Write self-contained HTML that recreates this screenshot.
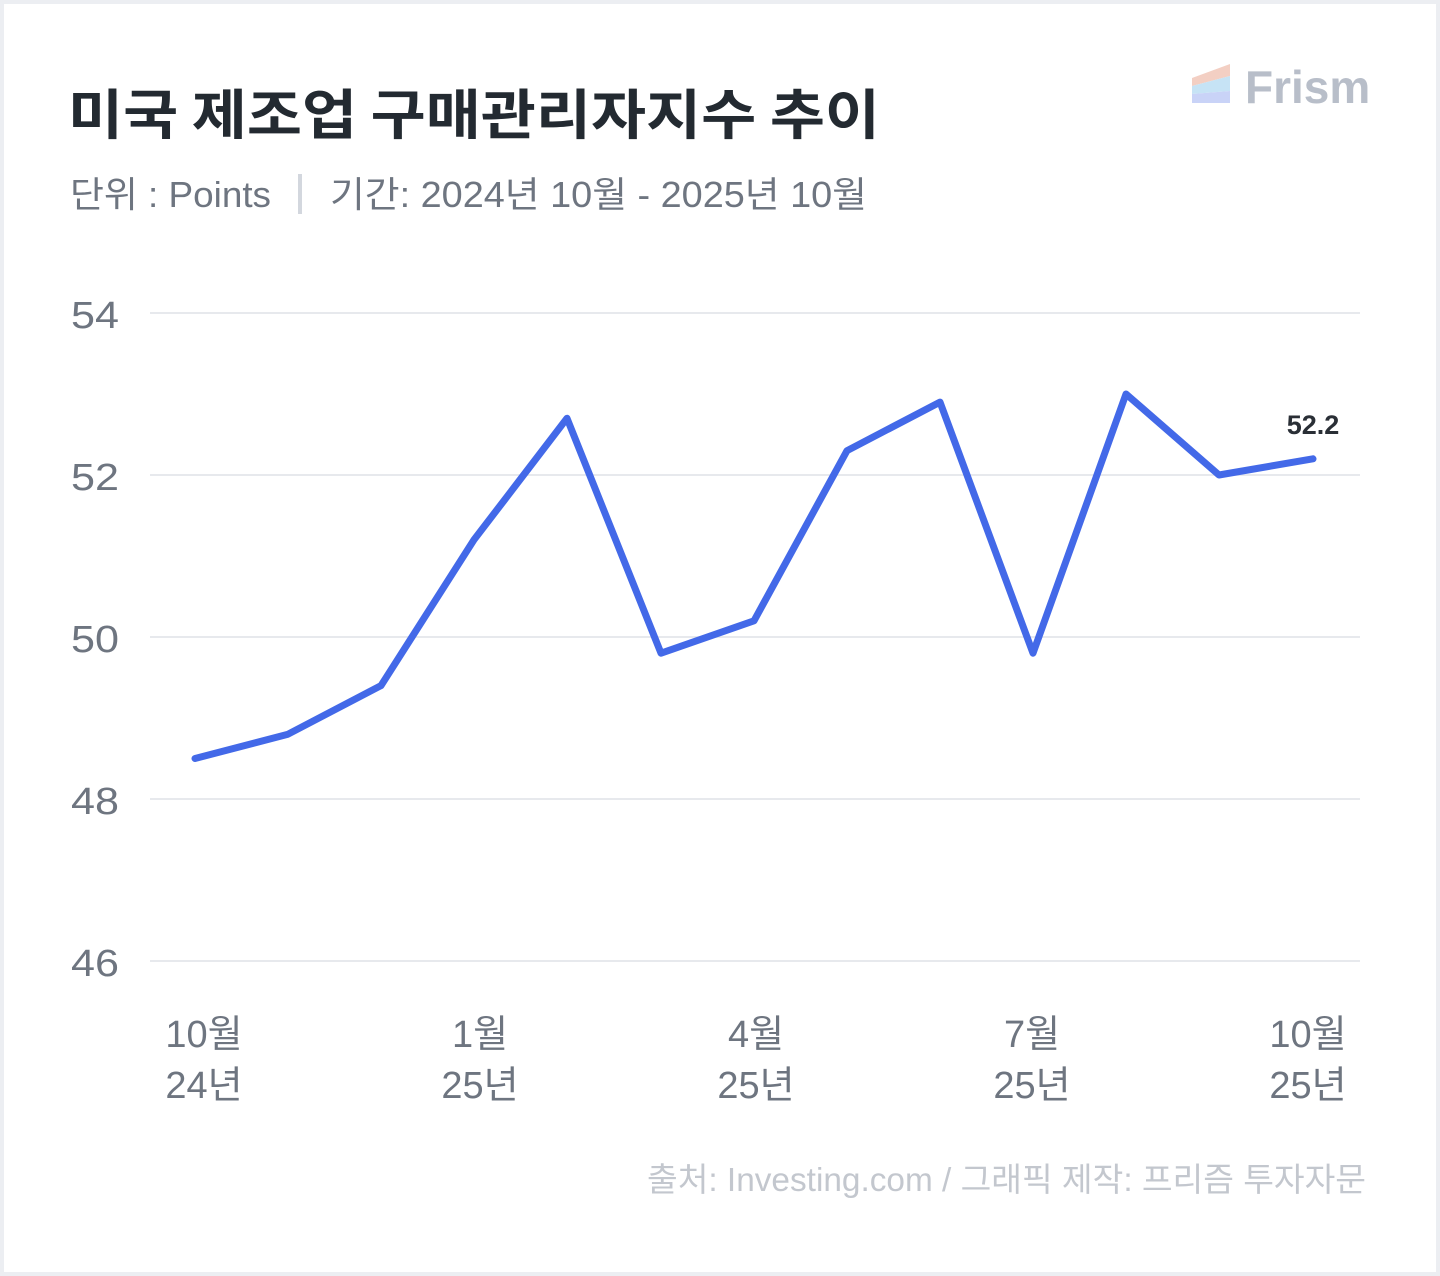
<!DOCTYPE html>
<html><head><meta charset="utf-8"><style>
html,body{margin:0;padding:0;}
body{width:1440px;height:1276px;background:#eceef2;position:relative;overflow:hidden;font-family:"Liberation Sans","Noto Sans CJK KR",sans-serif;}
.card{position:absolute;left:4px;top:4px;width:1432px;height:1268px;background:#fff;}
</style></head><body>
<div class="card"></div>
<svg width="1440" height="1276" style="position:absolute;left:0;top:0" font-family="Liberation Sans, Noto Sans CJK KR, sans-serif">
<text x="68" y="134" font-size="54" font-weight="bold" fill="#232a31" font-family="Noto Sans CJK KR, sans-serif" textLength="812" lengthAdjust="spacingAndGlyphs">미국 제조업 구매관리자지수 추이</text>
<text x="70" y="207" font-size="36" fill="#6e7580" textLength="201" lengthAdjust="spacingAndGlyphs">단위 : Points</text>
<rect x="298" y="174" width="4" height="40" fill="#d3d7de"/>
<text x="330" y="207" font-size="36" fill="#6e7580" textLength="537" lengthAdjust="spacingAndGlyphs">기간: 2024년 10월 - 2025년 10월</text>
<polygon points="1192,78 1230,64 1230,76 1192,86" fill="#f3cfc3"/>
<polygon points="1192,86 1230,76 1230,91 1192,94" fill="#c6e3f5"/>
<polygon points="1192,94 1230,91 1230,103 1192,103" fill="#c9d3f7"/>
<text x="1245" y="103" font-size="46" font-weight="bold" fill="#b8bec9">Frism</text>
<g stroke="#dfe2e7" stroke-width="1.5">
<line x1="150" x2="1360" y1="313" y2="313"/><line x1="150" x2="1360" y1="475" y2="475"/>
<line x1="150" x2="1360" y1="637" y2="637"/><line x1="150" x2="1360" y1="799" y2="799"/>
<line x1="150" x2="1360" y1="961" y2="961"/>
</g>
<g font-size="38" fill="#6e7580" text-anchor="end">
<text x="119" y="328" textLength="48" lengthAdjust="spacingAndGlyphs">54</text><text x="119" y="490" textLength="48" lengthAdjust="spacingAndGlyphs">52</text><text x="119" y="652" textLength="48" lengthAdjust="spacingAndGlyphs">50</text>
<text x="119" y="814" textLength="48" lengthAdjust="spacingAndGlyphs">48</text><text x="119" y="976" textLength="48" lengthAdjust="spacingAndGlyphs">46</text>
</g>
<polyline fill="none" stroke="#4369e8" stroke-width="7" stroke-linejoin="round" stroke-linecap="round"
points="195,758.5 288,734.2 381,685.6 474,539.8 567,418.3 661,653.2 754,620.8 847,450.7 940,402.1 1033,653.2 1126,394 1219,475 1313,458.8"/>
<text x="1313" y="434" font-size="27" font-weight="bold" fill="#2a2f36" text-anchor="middle">52.2</text>
<g font-size="38" fill="#6e7580" text-anchor="middle">
<text x="204" y="1047">10월</text><text x="204" y="1098">24년</text>
<text x="480" y="1047">1월</text><text x="480" y="1098">25년</text>
<text x="756" y="1047">4월</text><text x="756" y="1098">25년</text>
<text x="1032" y="1047">7월</text><text x="1032" y="1098">25년</text>
<text x="1308" y="1047">10월</text><text x="1308" y="1098">25년</text>
</g>
<text x="647" y="1191" font-size="33" fill="#c3c7ce" textLength="719" lengthAdjust="spacingAndGlyphs">출처: Investing.com / 그래픽 제작: 프리즘 투자자문</text>
</svg>
</body></html>
